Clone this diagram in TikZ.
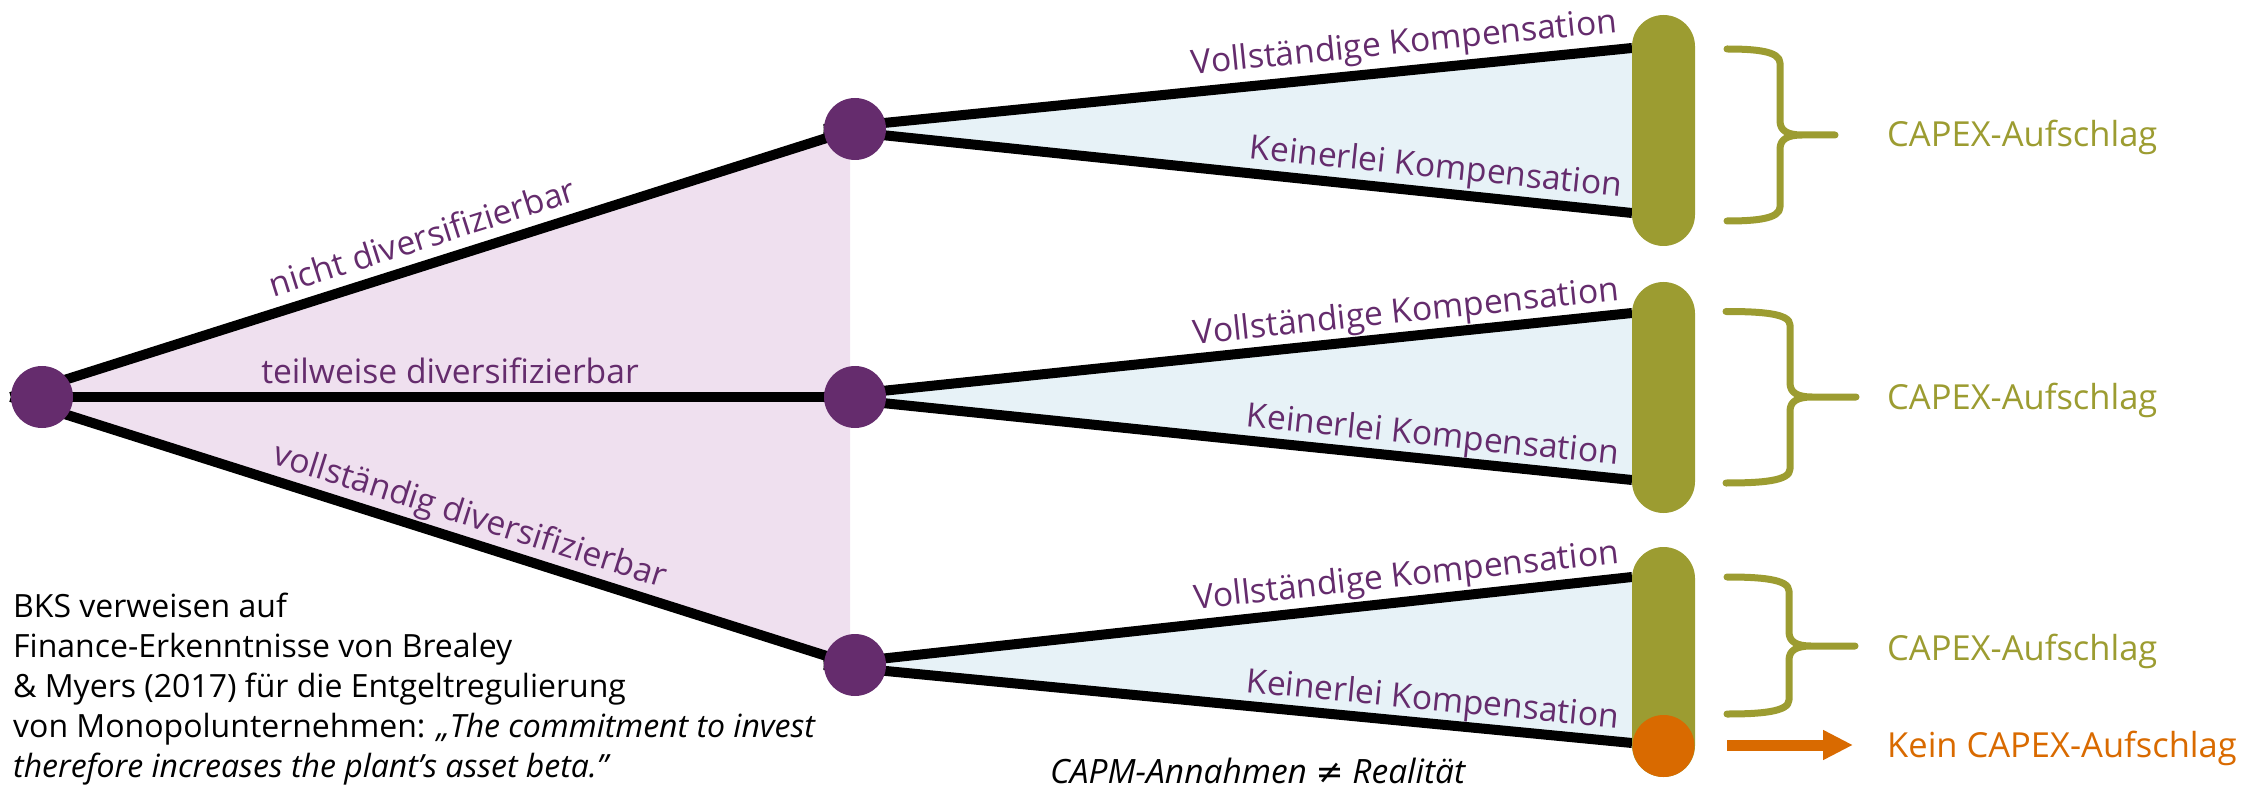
\documentclass[tikz,border=0pt]{standalone}
\usepackage{fontspec}
\setmainfont{Open Sans}
\newfontfamily\relsymfont{DejaVu Sans}
\usetikzlibrary{arrows.meta}
\pgfdeclarelayer{fills}
\pgfdeclarelayer{links}
\pgfsetlayers{fills,links,main}
\definecolor{riskpurple}{RGB}{101,44,109}
\definecolor{fanpink}{RGB}{239,224,239}
\definecolor{fanblue}{RGB}{231,242,247}
\definecolor{capexolive}{RGB}{156,156,49}
\definecolor{nocapexorange}{RGB}{217,106,0}
\begin{document}
\begin{tikzpicture}[x=1pt,y=-1pt,
  dot/.style={circle, fill=riskpurple, inner sep=0pt, minimum size=62pt},
  pill/.style={rectangle, rounded corners=31.5pt, fill=capexolive, inner sep=0pt, minimum width=63pt},
  branch/.style={line width=10pt, draw=black},
  lbl/.style={text=riskpurple, inner sep=0pt, font=\fontsize{33.6}{40}\selectfont},
  capex/.style={text=capexolive, inner sep=0pt, anchor=base west, font=\fontsize{34.5}{40}\selectfont},
  brace/.style={draw=capexolive, line width=7pt, line cap=round, line join=round},
  note/.style={text=black, inner sep=0pt, font=\fontsize{32}{40}\selectfont}]

\useasboundingbox (0,0) rectangle (2264,791);

% decision nodes
\node[dot] (root) at (42,397) {};
\node[dot] (hubA) at (855,129) {};
\node[dot] (hubB) at (855,397) {};
\node[dot] (hubC) at (855,665) {};

% outcome bars
\node[pill, minimum height=231pt] (pillA) at (1663.5,130.5) {};
\node[pill, minimum height=231pt] (pillB) at (1663.5,397.5) {};
\node[pill, minimum height=230pt] (pillC) at (1663.5,662) {};
\node[circle, fill=nocapexorange, inner sep=0pt, minimum size=62pt] (nocap) at (1663.5,746) {};

% ends of the compensation branches on the bars
\coordinate (A1) at (1632,48);
\coordinate (A2) at (1632,213);
\coordinate (B1) at (1632,313);
\coordinate (B2) at (1632,480);
\coordinate (C1) at (1632,577);
\coordinate (C2) at (1632,743);

% shaded fans
\begin{pgfonlayer}{fills}
  \fill[fanpink] (root.west) -- (850,130.6) -- (850,663.4) -- cycle;
  \fill[fanblue] (hubA.west) -- (A1) -- (A2) -- cycle;
  \fill[fanblue] (hubB.west) -- (B1) -- (B2) -- cycle;
  \fill[fanblue] (hubC.west) -- (C1) -- (C2) -- cycle;
\end{pgfonlayer}

% branches
\begin{pgfonlayer}{links}
  \draw[branch] (root.west) -- (hubA.center);
  \draw[branch] (root.west) -- (hubB.center);
  \draw[branch] (root.west) -- (hubC.center);
  \draw[branch] (hubA.west) -- (A1);
  \draw[branch] (hubA.west) -- (A2);
  \draw[branch] (hubB.west) -- (B1);
  \draw[branch] (hubB.west) -- (B2);
  \draw[branch] (hubC.west) -- (C1);
  \draw[branch] (hubC.west) -- (C2);
\end{pgfonlayer}

% branch labels
\node[lbl, rotate=17.6, anchor=base] (lblNicht) at (426,249) {nicht diversifizierbar};
\node[lbl, anchor=base] (lblTeil) at (450,383) {teilweise diversifizierbar};
\node[lbl, rotate=-17.6, anchor=base] (lblVoll) at (467,526) {vollständig diversifizierbar};

\node[lbl, rotate=5.72, anchor=base east] (fullA) at (1618,32) {Vollständige Kompensation};
\node[lbl, rotate=-5.93, anchor=base east] (noneA) at (1621,197) {Keinerlei Kompensation};
\node[lbl, rotate=5.93, anchor=base east] (fullB) at (1620,300) {Vollständige Kompensation};
\node[lbl, rotate=-5.86, anchor=base east] (noneB) at (1618,465) {Keinerlei Kompensation};
\node[lbl, rotate=6.21, anchor=base east] (fullC) at (1620,563) {Vollständige Kompensation};
\node[lbl, rotate=-5.51, anchor=base east] (noneC) at (1618,728) {Keinerlei Kompensation};

% braces
\draw[brace] (1727,49) .. controls (1755,49) and (1780,51) .. (1780,63) -- (1780,121)
  .. controls (1780,131) and (1788,135) .. (1802,135) -- (1835,135) -- (1802,135)
  .. controls (1788,135) and (1780,139) .. (1780,149) -- (1780,207)
  .. controls (1780,219) and (1755,221) .. (1727,221);
\draw[brace] (1726,311.5) .. controls (1762,311.5) and (1790,313.5) .. (1790,325) -- (1790,383)
  .. controls (1790,393) and (1798,397) .. (1812,397) -- (1856,397) -- (1812,397)
  .. controls (1798,397) and (1790,401) .. (1790,411) -- (1790,469)
  .. controls (1790,481) and (1762,483) .. (1726,483);
\draw[brace] (1727,577) .. controls (1760,577) and (1789,579) .. (1789,591) -- (1789,632)
  .. controls (1789,642) and (1797,646) .. (1811,646) -- (1855,646) -- (1811,646)
  .. controls (1797,646) and (1789,650) .. (1789,660) -- (1789,700)
  .. controls (1789,712) and (1760,714) .. (1727,714);

% outcome texts
\node[capex] (capexA) at (1887,147) {CAPEX-Aufschlag};
\node[capex] (capexB) at (1887,409) {CAPEX-Aufschlag};
\node[capex] (capexC) at (1887,660) {CAPEX-Aufschlag};
\node[capex, text=nocapexorange] (kein) at (1887,757) {Kein CAPEX-Aufschlag};

\coordinate (arrowStart) at (1727,745);
\coordinate (arrowEnd) at (1853,745);
\draw[draw=nocapexorange, line width=11pt, -{Triangle[length=30pt, width=28pt]}] (arrowStart) -- (arrowEnd);

% notes
\node[note, anchor=north west, align=left] (bks) at (13,593)
  {BKS verweisen auf\\
   Finance-Erkenntnisse von Brealey\\
   \& Myers (2017) für die Entgeltregulierung\\
   von Monopolunternehmen: \textit{„The commitment to invest}\\
   \textit{therefore increases the plant's asset beta."}};
\node[note, anchor=base west, font=\fontsize{33.5}{40}\selectfont] (capm) at (1050,783)
  {\textit{CAPM-Annahmen {\relsymfont ≠} Realität}};
\end{tikzpicture}
\end{document}
